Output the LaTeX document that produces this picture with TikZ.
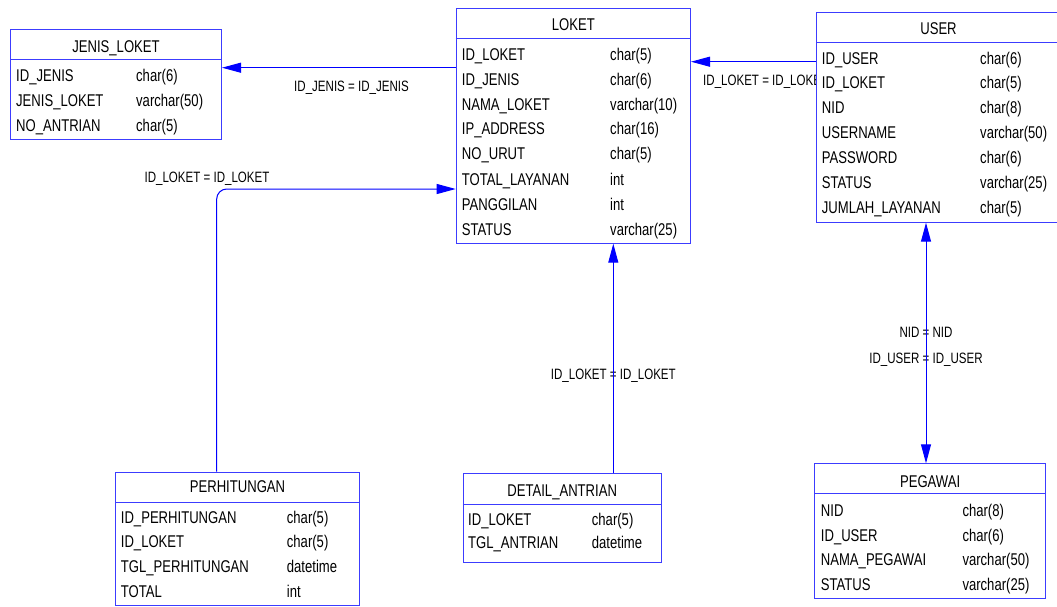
\documentclass[tikz,border=0pt]{standalone}
\usepackage{fontspec}
\setmainfont{Liberation Sans}[FakeStretch=0.77]
\usetikzlibrary{arrows.meta}
\definecolor{conncol}{RGB}{0,0,255}
\definecolor{tblcol}{RGB}{60,60,255}
\tikzset{
  tbl/.style={draw=tblcol, line width=1pt, fill=white, anchor=north west, inner sep=0pt},
  sepline/.style={draw=tblcol, line width=1pt},
  cell/.style={anchor=base west, inner sep=0pt, font=\fontsize{17}{17}\selectfont},
  ttl/.style={anchor=base, inner sep=0pt, font=\fontsize{17}{17}\selectfont},
  rel/.style={anchor=base, inner sep=0pt, font=\fontsize{15}{15}\selectfont},
  conn/.style={draw=conncol, line width=1pt},
  fk/.style={conn, -{Triangle[length=19pt,width=10pt]}},
}
\begin{document}
\begin{tikzpicture}[x=1pt,y=-1pt]
\useasboundingbox (0,0) rectangle (1057,606);
\begin{scope}
\clip (0,0) rectangle (1057,606);

% ---------- relation labels (under tables) ----------
\node[rel, anchor=base west] (lblUL) at (703,85.4) {ID\_LOKET = ID\_LOKET};
\node[rel] (lblLJ) at (351.5,91.1) {ID\_JENIS = ID\_JENIS};
\node[rel] (lblPL) at (207,182.1) {ID\_LOKET = ID\_LOKET};
\node[rel] (lblDL) at (613.3,379.4) {ID\_LOKET = ID\_LOKET};
\node[rel] (lblUP1) at (926,337.1) {NID = NID};
\node[rel] (lblUP2) at (926,363.7) {ID\_USER = ID\_USER};

% ---------- tables ----------
% JENIS_LOKET
\node[tbl, minimum width=211pt, minimum height=109.5pt] (jenis) at (10,29) {};
\draw[sepline] ([yshift=-30.5pt]jenis.north west) -- ([yshift=-30.5pt]jenis.north east);
\node[ttl] (jenisT) at (jenis.north |- {0,52}) {JENIS\_LOKET};
\node[cell] at (16,81.7) {ID\_JENIS};      \node[cell] at (136,81.7) {char(6)};
\node[cell] at (16,106) {JENIS\_LOKET};    \node[cell] at (136,106) {varchar(50)};
\node[cell] at (16,131) {NO\_ANTRIAN};     \node[cell] at (136,131) {char(5)};

% LOKET
\node[tbl, minimum width=234.3pt, minimum height=234.4pt] (loket) at (455.7,8.3) {};
\draw[sepline] ([yshift=-30pt]loket.north west) -- ([yshift=-30pt]loket.north east);
\node[ttl] (loketT) at (loket.north |- {0,30}) {LOKET};
\node[cell] at (461.7,60) {ID\_LOKET};       \node[cell] at (610,60) {char(5)};
\node[cell] at (461.7,85) {ID\_JENIS};       \node[cell] at (610,85) {char(6)};
\node[cell] at (461.7,110) {NAMA\_LOKET};    \node[cell] at (610,110) {varchar(10)};
\node[cell] at (461.7,134.5) {IP\_ADDRESS};  \node[cell] at (610,134.5) {char(16)};
\node[cell] at (461.7,159.5) {NO\_URUT};     \node[cell] at (610,159.5) {char(5)};
\node[cell] at (461.7,185) {TOTAL\_LAYANAN}; \node[cell] at (610,185) {int};
\node[cell] at (461.7,210) {PANGGILAN};      \node[cell] at (610,210) {int};
\node[cell] at (461.7,235) {STATUS};         \node[cell] at (610,235) {varchar(25)};

% USER
\node[tbl, minimum width=244pt, minimum height=210pt] (user) at (816,11.7) {};
\draw[sepline] ([yshift=-31pt]user.north west) -- ([yshift=-31pt]user.north east);
\node[ttl] (userT) at (user.north |- {0,34.8}) {USER};
\node[cell] at (821.7,64.3) {ID\_USER};         \node[cell] at (980,64.3) {char(6)};
\node[cell] at (821.7,88.7) {ID\_LOKET};        \node[cell] at (980,88.7) {char(5)};
\node[cell] at (821.7,113) {NID};               \node[cell] at (980,113) {char(8)};
\node[cell] at (821.7,138.7) {USERNAME};        \node[cell] at (980,138.7) {varchar(50)};
\node[cell] at (821.7,163.7) {PASSWORD};        \node[cell] at (980,163.7) {char(6)};
\node[cell] at (821.7,188.3) {STATUS};          \node[cell] at (980,188.3) {varchar(25)};
\node[cell] at (821.7,213.7) {JUMLAH\_LAYANAN}; \node[cell] at (980,213.7) {char(5)};

% PERHITUNGAN
\node[tbl, minimum width=244pt, minimum height=133.3pt] (perh) at (115,471.7) {};
\draw[sepline] ([yshift=-30.6pt]perh.north west) -- ([yshift=-30.6pt]perh.north east);
\node[ttl] (perhT) at (perh.north |- {0,492.7}) {PERHITUNGAN};
\node[cell] at (120.7,523.3) {ID\_PERHITUNGAN};   \node[cell] at (286.7,523.3) {char(5)};
\node[cell] at (120.7,547.7) {ID\_LOKET};         \node[cell] at (286.7,547.7) {char(5)};
\node[cell] at (120.7,572.7) {TGL\_PERHITUNGAN};  \node[cell] at (286.7,572.7) {datetime};
\node[cell] at (120.7,597) {TOTAL};               \node[cell] at (286.7,597) {int};

% DETAIL_ANTRIAN
\node[tbl, minimum width=198pt, minimum height=88.4pt] (detail) at (462.7,473.3) {};
\draw[sepline] ([yshift=-30.7pt]detail.north west) -- ([yshift=-30.7pt]detail.north east);
\node[ttl] (detailT) at (detail.north |- {0,496}) {DETAIL\_ANTRIAN};
\node[cell] at (468,525.3) {ID\_LOKET};     \node[cell] at (591.7,525.3) {char(5)};
\node[cell] at (468,548.7) {TGL\_ANTRIAN};  \node[cell] at (591.7,548.7) {datetime};

% PEGAWAI
\node[tbl, minimum width=230.7pt, minimum height=134.4pt] (pegawai) at (814.3,463.3) {};
\draw[sepline] ([yshift=-30pt]pegawai.north west) -- ([yshift=-30pt]pegawai.north east);
\node[ttl] (pegawaiT) at (pegawai.north |- {0,487.7}) {PEGAWAI};
\node[cell] at (820.7,516) {NID};            \node[cell] at (962.3,516) {char(8)};
\node[cell] at (820.7,541) {ID\_USER};       \node[cell] at (962.3,541) {char(6)};
\node[cell] at (820.7,565.3) {NAMA\_PEGAWAI};\node[cell] at (962.3,565.3) {varchar(50)};
\node[cell] at (820.7,590.3) {STATUS};       \node[cell] at (962.3,590.3) {varchar(25)};

% ---------- connectors ----------
\coordinate (yUL) at (0,61.7);
\coordinate (yLJ) at (0,67.7);
\coordinate (yPL) at (0,189);
\coordinate (xPL) at (216.7,0);
\coordinate (xDL) at (613.3,0);
\coordinate (xUP) at (926,0);

\draw[fk] (user.west |- yUL) -- (loket.east |- yUL);
\draw[fk] (loket.west |- yLJ) -- (jenis.east |- yLJ);
\draw[fk, rounded corners=10pt] (perh.north -| xPL) -- (xPL |- yPL) -- (loket.west |- yPL);
\draw[fk] (detail.north -| xDL) -- (loket.south -| xDL);
\draw[conn, {Triangle[length=19pt,width=10pt]}-{Triangle[length=19pt,width=10pt]}] (user.south -| xUP) -- (pegawai.north -| xUP);
\end{scope}
\end{tikzpicture}
\end{document}
